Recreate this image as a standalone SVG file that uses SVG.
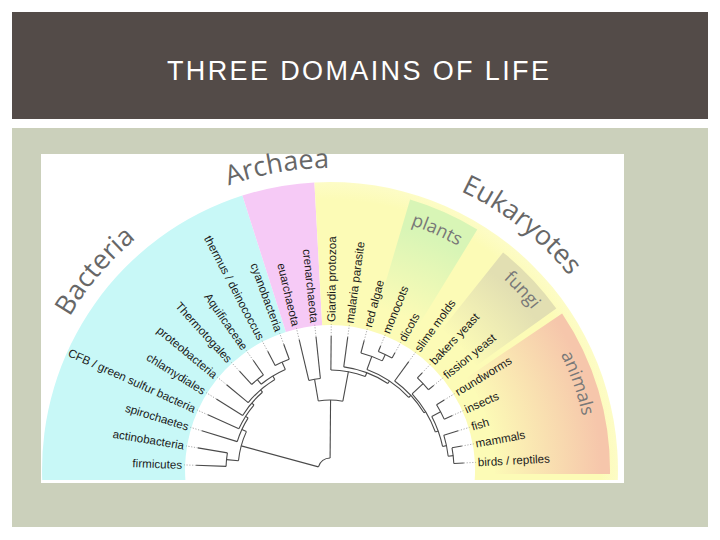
<svg xmlns="http://www.w3.org/2000/svg" width="720" height="540" viewBox="0 0 720 540">
<defs>
<style>
.title{font-family:"Liberation Sans",Arial,sans-serif;font-size:27px;fill:#ffffff}
.leaf{font-family:"Liberation Sans",Arial,sans-serif;font-size:11.6px;fill:#1a1a1a}
.big{font-family:"Open Sans","Liberation Sans",sans-serif;font-size:27px;fill:#676767}
.sub{font-family:"Open Sans","Liberation Sans",sans-serif;font-size:18px;fill:#787878}
.br{fill:none;stroke:#4a4a4a;stroke-width:1.1}
.lead{stroke:#9a9a9a;stroke-width:0.8;stroke-dasharray:1.2 1.6}
</style>
<radialGradient id="gY" gradientUnits="userSpaceOnUse" cx="330" cy="470" r="290">
<stop offset="0" stop-color="#fcfbb6"/><stop offset="0.93" stop-color="#fcfbb6"/><stop offset="1" stop-color="#fdfcc8"/>
</radialGradient>
<radialGradient id="gP" gradientUnits="userSpaceOnUse" cx="330" cy="470" r="282">
<stop offset="0.6" stop-color="#d8f5b6" stop-opacity="0"/><stop offset="0.9" stop-color="#d8f5b6"/><stop offset="1" stop-color="#d8f5b6"/>
</radialGradient>
<radialGradient id="gF" gradientUnits="userSpaceOnUse" cx="330" cy="470" r="278">
<stop offset="0.64" stop-color="#e2dfb2" stop-opacity="0"/><stop offset="0.92" stop-color="#e2dfb2"/><stop offset="1" stop-color="#e2dfb2"/>
</radialGradient>
<radialGradient id="gA" gradientUnits="userSpaceOnUse" cx="330" cy="470" r="280">
<stop offset="0.58" stop-color="#f6c6ab" stop-opacity="0"/><stop offset="0.97" stop-color="#f6c6ab"/><stop offset="1" stop-color="#f6c6ab"/>
</radialGradient>
<path id="arcBig" d="M28,470 A302,302 0 0 1 632,470"/>
<path id="arcEuk" d="M22,470 A308,308 0 0 1 638,470"/>
<path id="arcSub" d="M72,470 A258,258 0 0 1 588,470"/>
</defs>

<rect x="0" y="0" width="720" height="540" fill="#ffffff"/>
<rect x="12" y="12" width="696" height="107" fill="#534b48"/>
<text class="title" x="167" y="80" textLength="382" lengthAdjust="spacing">THREE DOMAINS OF LIFE</text>
<rect x="12" y="128" width="696" height="399" fill="#cbd0bb"/>
<rect x="41" y="154" width="583" height="329" fill="#ffffff"/>

<g id="regions">
<path d="M42.2,480 A288,288 0 0 1 242.4,195.6 L285.9,331.9 A145,145 0 0 0 185.4,480 Z" fill="#c8f8f7"/>
<path d="M242.4,195.6 A288,288 0 0 1 314.4,182.4 L322.2,325.2 A145,145 0 0 0 285.9,331.9 Z" fill="#f6caf6"/>
<path d="M314.4,182.4 A288,288 0 0 1 617.8,480 L474.7,480 A145,145 0 0 0 322.2,325.2 Z" fill="url(#gY)"/>
<path d="M410.1,199.6 A282,282 0 0 1 477.3,229.6 L418.8,325.1 A170,170 0 0 0 378.3,307 Z" fill="url(#gP)"/>
<path d="M503.1,252.4 A278,278 0 0 1 556.3,308.6 L476.5,365.5 A180,180 0 0 0 442.1,329.1 Z" fill="url(#gF)"/>
<path d="M562.1,313.4 A280,280 0 0 1 610,474 L495,474 A165,165 0 0 0 466.8,377.7 Z" fill="url(#gA)"/>
</g>

<g id="domain-labels">
<text class="big" text-anchor="middle"><textPath href="#arcBig" startOffset="212">Bacteria</textPath></text>
<text class="big" text-anchor="middle"><textPath href="#arcBig" startOffset="422">Archaea</textPath></text>
<text class="big" text-anchor="middle"><textPath href="#arcEuk" startOffset="688">Eukaryotes</textPath></text>
<text class="sub" text-anchor="middle"><textPath href="#arcSub" startOffset="513">plants</textPath></text>
<text class="sub" text-anchor="middle"><textPath href="#arcSub" startOffset="616">fungi</textPath></text>
<text class="sub" text-anchor="middle"><textPath href="#arcSub" startOffset="723">animals</textPath></text>
</g>

<g id="connectors" transform="translate(330,470)">
<g class="br">
<line x1="104" x2="134" transform="rotate(-178)"/>
<line x1="104" x2="134" transform="rotate(-170.5)"/>
<line x1="97" x2="134" transform="rotate(-163)"/>
<line x1="100" x2="134" transform="rotate(-155.7)"/>
<line x1="103" x2="134" transform="rotate(-148)"/>
<line x1="106" x2="134" transform="rotate(-140.5)"/>
<line x1="116" x2="134" transform="rotate(-132.5)"/>
<line x1="116" x2="134" transform="rotate(-125)"/>
<line x1="118" x2="134" transform="rotate(-117.7)"/>
<line x1="118" x2="134" transform="rotate(-110.2)"/>
<line x1="92" x2="134" transform="rotate(-103.3)"/>
<line x1="92" x2="134" transform="rotate(-96)"/>
<line x1="100" x2="134" transform="rotate(-89.5)"/>
<line x1="104" x2="134" transform="rotate(-82.4)"/>
<line x1="121" x2="134" transform="rotate(-75.2)"/>
<line x1="128" x2="134" transform="rotate(-67.8)"/>
<line x1="128" x2="134" transform="rotate(-61)"/>
<line x1="110" x2="134" transform="rotate(-54)"/>
<line x1="127" x2="134" transform="rotate(-46.5)"/>
<line x1="127" x2="134" transform="rotate(-39.2)"/>
<line x1="125" x2="134" transform="rotate(-31.5)"/>
<line x1="125" x2="134" transform="rotate(-24)"/>
<line x1="119" x2="134" transform="rotate(-17)"/>
<line x1="124" x2="134" transform="rotate(-10.3)"/>
<line x1="124" x2="134" transform="rotate(-3)"/>
<line x1="110" x2="118" transform="rotate(-113.95)"/>
<line x1="110" x2="116" transform="rotate(-128.75)"/>
<line x1="106" x2="110" transform="rotate(-121.35)"/>
<line x1="103" x2="106" transform="rotate(-130.93)"/>
<line x1="100" x2="103" transform="rotate(-139.46)"/>
<line x1="97" x2="100" transform="rotate(-147.58)"/>
<line x1="92" x2="97" transform="rotate(-155.29)"/>
<line x1="92" x2="104" transform="rotate(-174.25)"/>
<line x1="12" x2="92" transform="rotate(-164.8)"/>
<line x1="70" x2="92" transform="rotate(-99.65)"/>
<line x1="119" x2="124" transform="rotate(-6.65)"/>
<line x1="115" x2="119" transform="rotate(-11.83)"/>
<line x1="115" x2="125" transform="rotate(-27.75)"/>
<line x1="112" x2="115" transform="rotate(-19.79)"/>
<line x1="112" x2="127" transform="rotate(-42.85)"/>
<line x1="110" x2="112" transform="rotate(-31.32)"/>
<line x1="107" x2="110" transform="rotate(-42.66)"/>
<line x1="121" x2="128" transform="rotate(-64.4)"/>
<line x1="107" x2="121" transform="rotate(-69.8)"/>
<line x1="104" x2="107" transform="rotate(-56.23)"/>
<line x1="100" x2="104" transform="rotate(-69.32)"/>
<line x1="70" x2="100" transform="rotate(-79.41)"/>
<line x1="12" x2="70" transform="rotate(-89.53)"/>
<circle r="104" pathLength="360" stroke-dasharray="7.5 999" transform="rotate(-178)"/>
<circle r="118" pathLength="360" stroke-dasharray="7.5 999" transform="rotate(-117.7)"/>
<circle r="116" pathLength="360" stroke-dasharray="7.5 999" transform="rotate(-132.5)"/>
<circle r="110" pathLength="360" stroke-dasharray="14.8 999" transform="rotate(-128.75)"/>
<circle r="106" pathLength="360" stroke-dasharray="19.15 999" transform="rotate(-140.5)"/>
<circle r="103" pathLength="360" stroke-dasharray="17.07 999" transform="rotate(-148)"/>
<circle r="100" pathLength="360" stroke-dasharray="16.24 999" transform="rotate(-155.7)"/>
<circle r="97" pathLength="360" stroke-dasharray="15.42 999" transform="rotate(-163)"/>
<circle r="92" pathLength="360" stroke-dasharray="18.96 999" transform="rotate(-174.25)"/>
<circle r="92" pathLength="360" stroke-dasharray="7.3 999" transform="rotate(-103.3)"/>
<circle r="124" pathLength="360" stroke-dasharray="7.3 999" transform="rotate(-10.3)"/>
<circle r="119" pathLength="360" stroke-dasharray="10.35 999" transform="rotate(-17)"/>
<circle r="125" pathLength="360" stroke-dasharray="7.5 999" transform="rotate(-31.5)"/>
<circle r="115" pathLength="360" stroke-dasharray="15.92 999" transform="rotate(-27.75)"/>
<circle r="127" pathLength="360" stroke-dasharray="7.3 999" transform="rotate(-46.5)"/>
<circle r="112" pathLength="360" stroke-dasharray="23.06 999" transform="rotate(-42.85)"/>
<circle r="110" pathLength="360" stroke-dasharray="22.68 999" transform="rotate(-54)"/>
<circle r="128" pathLength="360" stroke-dasharray="6.8 999" transform="rotate(-67.8)"/>
<circle r="121" pathLength="360" stroke-dasharray="10.8 999" transform="rotate(-75.2)"/>
<circle r="107" pathLength="360" stroke-dasharray="27.14 999" transform="rotate(-69.8)"/>
<circle r="104" pathLength="360" stroke-dasharray="26.17 999" transform="rotate(-82.4)"/>
<circle r="100" pathLength="360" stroke-dasharray="20.18 999" transform="rotate(-89.5)"/>
<circle r="70" pathLength="360" stroke-dasharray="20.24 999" transform="rotate(-99.65)"/>
<circle r="12" pathLength="360" stroke-dasharray="75.27 999" transform="rotate(-164.8)"/>
</g>
<g class="lead">
<line x1="134" x2="146" transform="rotate(-178)"/>
<line x1="134" x2="146" transform="rotate(-170.5)"/>
<line x1="134" x2="146" transform="rotate(-163)"/>
<line x1="134" x2="146" transform="rotate(-155.7)"/>
<line x1="134" x2="146" transform="rotate(-148)"/>
<line x1="134" x2="146" transform="rotate(-140.5)"/>
<line x1="134" x2="146" transform="rotate(-132.5)"/>
<line x1="134" x2="146" transform="rotate(-125)"/>
<line x1="134" x2="146" transform="rotate(-117.7)"/>
<line x1="134" x2="146" transform="rotate(-110.2)"/>
<line x1="134" x2="146" transform="rotate(-103.3)"/>
<line x1="134" x2="146" transform="rotate(-96)"/>
<line x1="134" x2="146" transform="rotate(-89.5)"/>
<line x1="134" x2="146" transform="rotate(-82.4)"/>
<line x1="134" x2="146" transform="rotate(-75.2)"/>
<line x1="134" x2="146" transform="rotate(-67.8)"/>
<line x1="134" x2="146" transform="rotate(-61)"/>
<line x1="134" x2="146" transform="rotate(-54)"/>
<line x1="134" x2="146" transform="rotate(-46.5)"/>
<line x1="134" x2="146" transform="rotate(-39.2)"/>
<line x1="134" x2="146" transform="rotate(-31.5)"/>
<line x1="134" x2="146" transform="rotate(-24)"/>
<line x1="134" x2="146" transform="rotate(-17)"/>
<line x1="134" x2="146" transform="rotate(-10.3)"/>
<line x1="134" x2="146" transform="rotate(-3)"/>
</g>
</g>

<g id="leaf-labels" class="leaf">
<g id="firmicutes"><text x="-148" dy="0.35em" text-anchor="end" transform="translate(330,470) rotate(2)">firmicutes</text></g>
<g id="actinobacteria"><text x="-148" dy="0.35em" text-anchor="end" transform="translate(330,470) rotate(9.5)">actinobacteria</text></g>
<g id="spirochaetes"><text x="-148" dy="0.35em" text-anchor="end" transform="translate(330,470) rotate(17)">spirochaetes</text></g>
<g id="cfb"><text x="-148" dy="0.35em" text-anchor="end" transform="translate(330,470) rotate(24.3)">CFB / green sulfur bacteria</text></g>
<g id="chlamydiales"><text x="-148" dy="0.35em" text-anchor="end" transform="translate(330,470) rotate(32)">chlamydiales</text></g>
<g id="proteobacteria"><text x="-148" dy="0.35em" text-anchor="end" transform="translate(330,470) rotate(39.5)">proteobacteria</text></g>
<g id="thermotogales"><text x="-148" dy="0.35em" text-anchor="end" transform="translate(330,470) rotate(47.5)">Thermotogales</text></g>
<g id="aquificaceae"><text x="-148" dy="0.35em" text-anchor="end" transform="translate(330,470) rotate(55)">Aquificaceae</text></g>
<g id="thermus"><text x="-148" dy="0.35em" text-anchor="end" transform="translate(330,470) rotate(62.3)">thermus / deinococcus</text></g>
<g id="cyanobacteria"><text x="-148" dy="0.35em" text-anchor="end" transform="translate(330,470) rotate(69.8)">cyanobacteria</text></g>
<g id="euarchaeota"><text x="-148" dy="0.35em" text-anchor="end" transform="translate(330,470) rotate(76.7)">euarchaeota</text></g>
<g id="crenarchaeota"><text x="-148" dy="0.35em" text-anchor="end" transform="translate(330,470) rotate(84)">crenarchaeota</text></g>
<g id="giardia"><text x="148" dy="0.35em" transform="translate(330,470) rotate(-89.5)">Giardia protozoa</text></g>
<g id="malaria"><text x="148" dy="0.35em" transform="translate(330,470) rotate(-82.4)">malaria parasite</text></g>
<g id="red-algae"><text x="148" dy="0.35em" transform="translate(330,470) rotate(-75.2)">red algae</text></g>
<g id="monocots"><text x="148" dy="0.35em" transform="translate(330,470) rotate(-67.8)">monocots</text></g>
<g id="dicots"><text x="148" dy="0.35em" transform="translate(330,470) rotate(-61)">dicots</text></g>
<g id="slime-molds"><text x="148" dy="0.35em" transform="translate(330,470) rotate(-54)">slime molds</text></g>
<g id="bakers-yeast"><text x="148" dy="0.35em" transform="translate(330,470) rotate(-46.5)">bakers yeast</text></g>
<g id="fission-yeast"><text x="148" dy="0.35em" transform="translate(330,470) rotate(-39.2)">fission yeast</text></g>
<g id="roundworms"><text x="148" dy="0.35em" transform="translate(330,470) rotate(-31.5)">roundworms</text></g>
<g id="insects"><text x="148" dy="0.35em" transform="translate(330,470) rotate(-24)">insects</text></g>
<g id="fish"><text x="148" dy="0.35em" transform="translate(330,470) rotate(-17)">fish</text></g>
<g id="mammals"><text x="148" dy="0.35em" transform="translate(330,470) rotate(-10.3)">mammals</text></g>
<g id="birds"><text x="148" dy="0.35em" transform="translate(330,470) rotate(-3)">birds / reptiles</text></g>
</g>
</svg>
